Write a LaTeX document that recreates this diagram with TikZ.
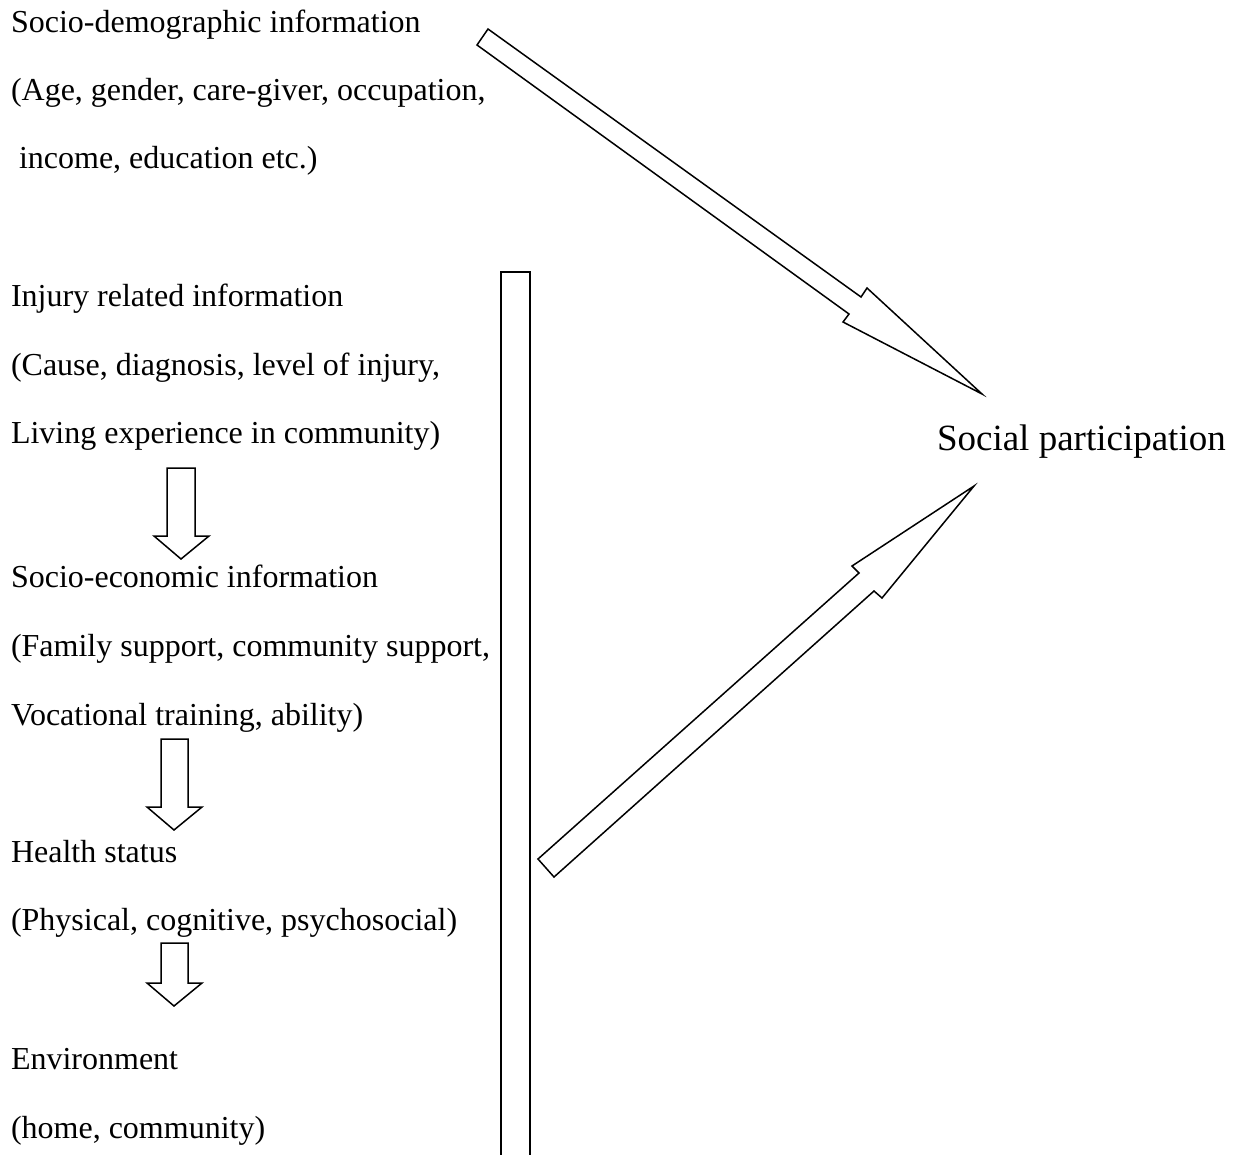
\documentclass[tikz,border=0pt]{standalone}
\usepackage{fontspec}
\setmainfont{Liberation Serif}
\begin{document}
\begin{tikzpicture}[x=1pt,y=-1pt,
  lbl/.style={anchor=base west,inner sep=0pt,outer sep=0pt,font=\fontsize{32pt}{38pt}\selectfont},
  big/.style={anchor=base west,inner sep=0pt,outer sep=0pt,font=\fontsize{37pt}{44pt}\selectfont},
  blockarrow/.style={draw=black,line width=1.5pt,fill=white,line join=miter}]
\useasboundingbox (0,0) rectangle (1238,1154);
\clip (0,0) rectangle (1238,1154);
% left texts
\node[lbl] (sd1) at (11,32) {Socio-demographic information};
\node[lbl] (sd2) at (11,100) {(Age, gender, care-giver, occupation,};
\node[lbl] (sd3) at (11,168) {\ income, education etc.)};
\node[lbl] (ir1) at (11,306) {Injury related information};
\node[lbl] (ir2) at (11,375) {(Cause, diagnosis, level of injury,};
\node[lbl] (ir3) at (11,443) {Living experience in community)};
\node[lbl] (se1) at (11,587) {Socio-economic information};
\node[lbl] (se2) at (11,656) {(Family support, community support,};
\node[lbl] (se3) at (11,725) {Vocational training, ability)};
\node[lbl] (hs1) at (11,862) {Health status};
\node[lbl] (hs2) at (11,930) {(Physical, cognitive, psychosocial)};
\node[lbl] (en1) at (11,1069) {Environment};
\node[lbl] (en2) at (11,1138) {(home, community)};
\node[big] (sp) at (937,450) {Social participation};
% vertical bar
\draw[blockarrow] (501,1170) -- (501,272) -- (530,272) -- (530,1170);
% small down arrows
\draw[blockarrow] (167,468) -- (195,468) -- (195,536) -- (209,536) -- (181,559) -- (154,536) -- (167,536) -- cycle;
\draw[blockarrow] (161,739) -- (188,739) -- (188,807) -- (202,807) -- (174,830) -- (147,807) -- (161,807) -- cycle;
\draw[blockarrow] (161,943) -- (188,943) -- (188,983) -- (202,983) -- (174,1006) -- (147,983) -- (161,983) -- cycle;
% big arrow top
\draw[blockarrow] (488,29) -- (861,297) -- (867,288) -- (982,394) -- (843,322) -- (849,314) -- (477,45) -- cycle;
% big arrow bottom
\draw[blockarrow] (538,859) -- (859,573) -- (852,566) -- (974,486) -- (882,598) -- (874,591) -- (554,877) -- cycle;
\end{tikzpicture}
\end{document}
